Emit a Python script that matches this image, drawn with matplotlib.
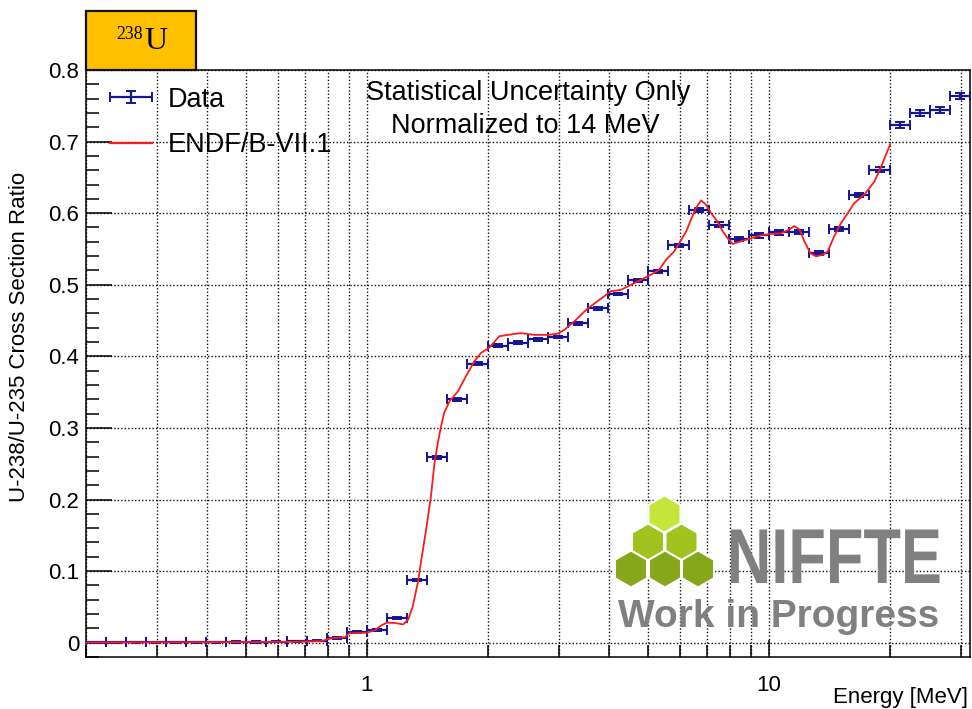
import numpy as np
import matplotlib
matplotlib.use("Agg")
import matplotlib.pyplot as plt
from matplotlib.patches import Rectangle, RegularPolygon
from matplotlib.legend_handler import HandlerErrorbar
from matplotlib.patheffects import AbstractPathEffect
from matplotlib.transforms import Affine2D
from matplotlib.ticker import FixedLocator, NullFormatter, MultipleLocator, LogLocator

plt.rcParams['font.family'] = ['Liberation Sans', 'DejaVu Sans']

# ── Data ──────────────────────────────────────────────────────────────────────
# bin edges [MeV] (20 bins per decade)
bin_edges = [0.200, 0.224, 0.251, 0.282, 0.316, 0.355, 0.398, 0.447, 0.501, 0.562,
             0.631, 0.708, 0.794, 0.891, 1.000, 1.122, 1.259, 1.413, 1.585, 1.778,
             1.995, 2.239, 2.512, 2.818, 3.162, 3.548, 3.981, 4.467, 5.012, 5.623,
             6.310, 7.079, 7.943, 8.913, 10.00, 11.22, 12.59, 14.13, 15.85, 17.78,
             19.95, 22.39, 25.12, 28.18, 31.62]

data_ratio = [0.0005, 0.0005, 0.0005, 0.0006, 0.0006, 0.0007, 0.0008, 0.0009, 0.0010, 0.0012,
              0.0020, 0.0025, 0.0065, 0.0144, 0.0180, 0.0345, 0.0870, 0.2590, 0.3400, 0.3900,
              0.4150, 0.4190, 0.4240, 0.4270, 0.4460, 0.4670, 0.4870, 0.5060, 0.5190, 0.5550,
              0.6040, 0.5840, 0.5640, 0.5690, 0.5730, 0.5740, 0.5440, 0.5780, 0.6250, 0.6610,
              0.7230, 0.7400, 0.7440, 0.7640]

data_err = [0.0008] * 12 + [0.0015] * 5 + [0.002] * 13 + [0.003] * 10 + [0.004] * 4

# ENDF/B-VII.1 evaluation
endf_e = [0.1995, 0.2512, 0.3162, 0.3981, 0.5012, 0.6310, 0.7079, 0.7762, 0.8035, 0.8318,
          0.8810, 0.9016, 0.9550, 1.000, 1.047, 1.084, 1.122, 1.175, 1.230, 1.265,
          1.300, 1.337, 1.361, 1.403, 1.442, 1.472, 1.500, 1.528, 1.556, 1.603,
          1.683, 1.762, 1.849, 1.923, 2.014, 2.133, 2.239, 2.415, 2.606, 2.818,
          2.979, 3.097, 3.281, 3.508, 3.784, 4.046, 4.285, 4.539, 4.808, 5.082,
          5.333, 5.546, 5.808, 6.039, 6.223, 6.397, 6.577, 6.776, 6.966, 7.178,
          7.447, 7.674, 7.889, 8.128, 8.433, 9.016, 9.550, 10.12, 10.72, 11.22,
          11.56, 11.91, 12.25, 12.68, 13.09, 13.61, 14.00, 14.52, 15.10, 15.70,
          16.29, 17.26, 18.28, 19.01, 19.54, 20.00]
endf_r = [0.0003, 0.0004, 0.0005, 0.0007, 0.0009, 0.0012, 0.0015, 0.0025, 0.0055, 0.0068,
          0.0075, 0.0130, 0.0135, 0.0140, 0.0175, 0.0240, 0.0280, 0.0275, 0.0255, 0.0320,
          0.0510, 0.0830, 0.1110, 0.1580, 0.2040, 0.2510, 0.2790, 0.3020, 0.3210, 0.3370,
          0.3510, 0.3720, 0.3930, 0.4050, 0.4120, 0.4280, 0.4300, 0.4325, 0.4300, 0.4300,
          0.4316, 0.4370, 0.4490, 0.4650, 0.4790, 0.4910, 0.4930, 0.5000, 0.5070, 0.5140,
          0.5210, 0.5350, 0.5465, 0.5620, 0.5745, 0.5910, 0.6070, 0.6178, 0.6120, 0.6000,
          0.5880, 0.5745, 0.5650, 0.5570, 0.5600, 0.5650, 0.5690, 0.5710, 0.5720, 0.5770,
          0.5820, 0.5770, 0.5605, 0.5440, 0.5396, 0.5420, 0.5465, 0.5675, 0.5860, 0.6000,
          0.6140, 0.6260, 0.6440, 0.6650, 0.6816, 0.6955]


# squeeze text horizontally about a fixed x (display px) -> condensed look
class Squeeze(AbstractPathEffect):
    def __init__(self, sx, x0):
        super().__init__()
        self.sx, self.x0 = sx, x0

    def draw_path(self, renderer, gc, tpath, affine, rgbFace=None):
        sq = Affine2D().translate(-self.x0, 0).scale(self.sx, 1).translate(self.x0, 0)
        renderer.draw_path(gc, tpath, affine + sq, rgbFace)


# ── Figure ────────────────────────────────────────────────────────────────────
W, H = 972, 709
fig = plt.figure(figsize=(W / 100, H / 100), dpi=100)
ax = fig.add_axes([86 / W, 1 - 657 / H, 884 / W, 587 / H])

edges = np.array(bin_edges)
centers = np.sqrt(edges[:-1] * edges[1:])
xerr = np.vstack([centers - edges[:-1], edges[1:] - centers])

blue = '#151596'
eb = ax.errorbar(centers, data_ratio, xerr=xerr, yerr=data_err, fmt='none',
                 ecolor=blue, elinewidth=1.6, capsize=3.5, capthick=1.4,
                 label='Data', zorder=3)
ln, = ax.plot(endf_e, endf_r, color='#ff1a1a', lw=1.3, label='ENDF/B-VII.1', zorder=4)

ax.set_xscale('log')
ax.set_xlim(bin_edges[0], bin_edges[-1])
ax.set_ylim(-0.02, 0.8)

ax.xaxis.set_major_locator(FixedLocator([1, 10]))
ax.set_xticklabels(['1', '10'])
ax.xaxis.set_minor_locator(LogLocator(base=10, subs=np.arange(2, 10)))
ax.xaxis.set_minor_formatter(NullFormatter())
ax.yaxis.set_major_locator(MultipleLocator(0.1))
ax.yaxis.set_minor_locator(MultipleLocator(0.02))
ax.yaxis.set_major_formatter(plt.FuncFormatter(lambda v, p: '0' if abs(v) < 1e-9 else f'{v:.1f}'))

ax.tick_params(axis='both', which='both', direction='in', width=1.1, colors='black',
               labelsize=16, top=False, right=False)
ax.tick_params(axis='y', which='major', length=18.5, pad=5)
ax.tick_params(axis='y', which='minor', length=9.5)
ax.tick_params(axis='x', which='major', length=12, pad=13)
ax.tick_params(axis='x', which='minor', length=8.5)

grid_kw = dict(color='#111111', lw=1.0, linestyle=(0, (1, 1.5)))
ax.grid(True, which='both', axis='x', **grid_kw)
ax.grid(True, which='major', axis='y', **grid_kw)
ax.set_axisbelow(True)
for s in ax.spines.values():
    s.set_linewidth(1.1)

leg = ax.legend([eb, ln], ['Data', 'ENDF/B-VII.1'], loc='upper left',
                bbox_to_anchor=(0.027, 0.9715), frameon=False,
                fontsize=19.5, borderpad=0, borderaxespad=0, handlelength=1.55,
                handletextpad=0.6, labelspacing=0.72,
                handler_map={type(eb): HandlerErrorbar(xerr_size=0.78, yerr_size=0.22)})
leg.get_lines()[-1].set_linewidth(1.6) if leg.get_lines() else None

# axis titles
fig.text(20 / W, 1 - 337 / H, 'U-238/U-235 Cross Section Ratio', rotation=90,
         ha='center', va='center', fontsize=16)
fig.text(968 / W, 1 - 703 / H, 'Energy [MeV]', ha='right', va='baseline', fontsize=16)

# annotation
fig.text(528 / W, 1 - 100 / H, 'Statistical Uncertainty Only', ha='center',
         va='baseline', fontsize=19.5)
fig.text(525 / W, 1 - 133 / H, 'Normalized to 14 MeV', ha='center',
         va='baseline', fontsize=19.5)

# isotope tag
fig.patches.append(Rectangle((86 / W, 1 - 70 / H), 110 / W, 59 / H, transform=fig.transFigure,
                             facecolor='#ffc000', edgecolor='#111111', lw=1.6, zorder=5))
fig.text(143 / W, 1 - 39 / H, '238', ha='right', va='baseline', fontsize=12.8,
         family='Liberation Serif', zorder=6)
fig.text(144 / W, 1 - 49 / H, 'U', ha='left', va='baseline', fontsize=23,
         family='Liberation Serif', zorder=6)

# NIFFTE logo overlay (pixel coordinates)
ov = fig.add_axes([0, 0, 1, 1], zorder=10)
ov.set_xlim(0, W)
ov.set_ylim(H, 0)
ov.axis('off')
hexes = [((664.5, 514), '#c6e53b'),
         ((648, 542), '#a2c21f'), ((681.5, 542), '#a2c21f'),
         ((631, 569), '#86a71b'), ((665, 569), '#86a71b'), ((698, 569), '#86a71b')]
for (cx, cy), col in hexes:
    ov.add_patch(RegularPolygon((cx, cy), numVertices=6, radius=18.5, orientation=0,
                                facecolor=col, edgecolor='white', lw=1.5))
ov.text(942, 583, 'NIFFTE', ha='right', va='baseline', fontsize=56, fontweight='bold',
        color='#808080', path_effects=[Squeeze(0.79, 942 * fig.dpi / 100)])
ov.text(618, 627, 'Work in Progress', ha='left', va='baseline', fontsize=28,
        fontweight='bold', color='#808080')

fig.savefig('out.png', dpi=100)
